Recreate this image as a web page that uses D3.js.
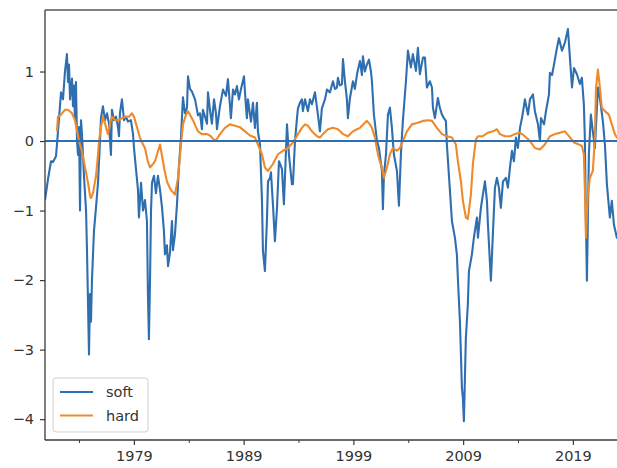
<!DOCTYPE html>
<html><head><meta charset="utf-8">
<script src="https://cdn.jsdelivr.net/npm/d3@7"></script>
<style>body{margin:0;background:#fff}svg{display:block}text{font-family:"DejaVu Sans",sans-serif}</style>
</head><body><svg id="c" width="617" height="468"></svg>
<script>
const softYears=[1970.90,1971.17,1971.45,1971.63,1971.90,1971.99,1972.18,1972.36,1972.54,1972.72,1972.90,1973.00,1973.09,1973.18,1973.36,1973.45,1973.54,1973.63,1973.72,1973.82,1973.91,1974.00,1974.09,1974.18,1974.27,1974.45,1974.64,1974.73,1974.91,1975.00,1975.09,1975.18,1975.36,1975.55,1975.73,1975.91,1976.00,1976.18,1976.37,1976.55,1976.73,1976.91,1977.00,1977.19,1977.37,1977.55,1977.64,1977.73,1977.91,1978.10,1978.28,1978.46,1978.73,1978.92,1979.01,1979.19,1979.37,1979.46,1979.65,1979.83,1980.01,1980.19,1980.28,1980.37,1980.47,1980.56,1980.65,1980.83,1981.01,1981.19,1981.38,1981.56,1981.74,1981.83,1982.01,1982.11,1982.29,1982.47,1982.56,1982.74,1982.93,1983.11,1983.29,1983.47,1983.65,1983.84,1983.93,1984.11,1984.29,1984.57,1984.84,1985.02,1985.20,1985.29,1985.48,1985.66,1985.75,1985.93,1986.11,1986.30,1986.48,1986.57,1986.84,1987.12,1987.39,1987.57,1987.84,1988.03,1988.21,1988.39,1988.57,1988.76,1989.03,1989.21,1989.30,1989.39,1989.67,1989.85,1990.03,1990.21,1990.30,1990.49,1990.67,1990.76,1990.94,1991.12,1991.22,1991.40,1991.49,1991.67,1991.85,1992.04,1992.22,1992.49,1992.67,1992.95,1993.13,1993.40,1993.49,1993.68,1993.86,1993.95,1994.13,1994.31,1994.40,1994.59,1994.86,1995.04,1995.22,1995.50,1995.77,1995.95,1996.13,1996.41,1996.59,1996.86,1997.14,1997.32,1997.50,1997.59,1997.77,1997.96,1998.05,1998.23,1998.41,1998.50,1998.69,1998.96,1999.14,1999.33,1999.60,1999.78,1999.87,2000.05,2000.23,2000.42,2000.60,2000.69,2000.87,2001.15,2001.33,2001.60,2001.69,2001.78,2001.97,2002.15,2002.33,2002.51,2002.69,2002.97,2003.15,2003.33,2003.51,2003.79,2003.97,2004.24,2004.42,2004.70,2004.88,2005.06,2005.34,2005.52,2005.70,2005.97,2006.16,2006.25,2006.43,2006.70,2006.88,2007.07,2007.25,2007.43,2007.52,2007.70,2007.98,2008.25,2008.43,2008.52,2008.71,2008.89,2008.98,2009.07,2009.25,2009.43,2009.53,2009.80,2009.98,2010.26,2010.35,2010.62,2010.80,2010.99,2011.17,2011.26,2011.53,2011.71,2011.90,2012.08,2012.26,2012.44,2012.63,2012.90,2013.08,2013.27,2013.45,2013.63,2013.81,2013.99,2014.18,2014.36,2014.54,2014.63,2014.91,2015.09,2015.36,2015.54,2015.82,2016.00,2016.09,2016.37,2016.55,2016.82,2016.91,2017.10,2017.28,2017.55,2017.73,2018.01,2018.28,2018.55,2018.73,2018.92,2019.10,2019.37,2019.64,2019.82,2020.00,2020.09,2020.19,2020.28,2020.46,2020.64,2020.82,2021.01,2021.28,2021.46,2021.73,2021.92,2022.10,2022.37,2022.55,2022.74,2023.01,2023.38];
const softValues=[-0.85,-0.55,-0.29,-0.30,-0.22,-0.05,0.33,0.70,0.60,1.00,1.25,0.85,1.10,0.60,0.90,0.50,0.80,0.30,0.85,0.00,-0.20,0.20,-1.00,0.30,0.10,-0.50,-1.00,-1.60,-3.07,-2.20,-2.60,-2.00,-1.30,-0.95,-0.60,0.00,0.33,0.50,0.30,0.40,0.25,-0.20,0.45,0.30,0.35,0.20,0.07,0.40,0.60,0.30,0.35,0.28,0.30,0.10,-0.10,-0.40,-0.70,-1.10,-0.60,-1.00,-0.85,-1.15,-2.20,-2.85,-2.00,-1.00,-0.60,-0.50,-0.75,-0.50,-0.70,-0.95,-1.30,-1.63,-1.50,-1.80,-1.60,-1.15,-1.57,-1.35,-0.90,-0.35,0.05,0.63,0.40,0.48,0.93,0.75,0.71,0.60,0.37,0.40,0.17,0.45,0.35,0.25,0.70,0.45,0.25,0.60,0.40,0.17,0.50,0.74,0.65,0.89,0.33,0.74,0.67,0.79,0.60,0.75,0.93,0.50,0.33,0.60,0.28,0.55,0.19,0.55,0.14,-0.05,-0.85,-1.58,-1.87,-1.15,-0.58,-0.53,-0.45,-0.91,-1.44,-0.96,-0.29,-0.40,-0.91,0.24,-0.20,-0.62,-0.62,0.00,0.33,0.47,0.55,0.60,0.43,0.60,0.43,0.60,0.53,0.70,0.38,0.14,0.47,0.60,0.74,0.70,0.86,0.75,0.77,0.91,0.80,0.82,1.18,0.86,0.60,0.33,0.62,0.86,0.75,0.96,1.15,0.95,1.22,1.00,1.10,1.17,1.00,0.86,0.38,0.00,-0.10,-0.43,-0.98,-0.50,-0.19,0.38,0.48,0.19,-0.19,-0.43,-0.93,-0.19,0.29,0.86,1.30,1.06,1.25,1.01,1.34,0.96,1.20,1.20,0.77,0.86,0.77,0.48,0.33,0.62,0.48,0.38,0.33,0.29,-0.05,-0.48,-1.15,-1.39,-1.63,-1.97,-2.60,-3.55,-3.70,-4.03,-2.83,-2.35,-1.87,-1.63,-1.39,-1.10,-1.39,-0.96,-0.77,-0.58,-0.86,-1.20,-2.01,-1.34,-0.67,-0.53,-0.67,-0.96,-0.58,-0.53,-0.67,-0.38,-0.14,-0.29,0.05,-0.10,0.19,0.33,0.50,0.60,0.38,0.60,0.67,0.43,0.24,0.00,0.33,0.24,0.43,0.67,0.98,0.95,1.10,1.34,1.48,1.30,1.42,1.61,1.20,0.77,1.05,0.96,0.82,0.91,0.53,0.05,-1.15,-2.01,-0.19,0.38,0.14,-0.10,0.77,0.62,0.29,-0.05,-0.62,-1.10,-0.86,-1.20,-1.39,-1.30];
const hardYears=[1971.99,1972.08,1972.36,1972.72,1973.00,1973.36,1973.63,1973.82,1974.00,1974.27,1974.45,1974.64,1974.82,1975.00,1975.09,1975.27,1975.55,1975.73,1975.82,1976.00,1976.18,1976.37,1976.64,1976.82,1977.00,1977.28,1977.55,1977.82,1978.19,1978.55,1978.83,1979.01,1979.28,1979.55,1979.83,1980.01,1980.28,1980.47,1980.74,1980.92,1981.19,1981.38,1981.65,1981.83,1982.01,1982.29,1982.47,1982.74,1983.02,1983.29,1983.47,1983.75,1983.93,1984.11,1984.38,1984.66,1984.84,1985.20,1985.66,1985.93,1986.11,1986.39,1986.66,1986.84,1987.30,1987.75,1988.21,1988.66,1989.12,1989.58,1990.03,1990.30,1990.67,1990.94,1991.22,1991.67,1992.13,1992.58,1993.04,1993.49,1993.95,1994.31,1994.59,1994.86,1995.22,1995.68,1995.95,1996.23,1996.68,1997.14,1997.59,1998.05,1998.50,1998.96,1999.33,1999.60,1999.96,2000.23,2000.51,2000.69,2000.96,2001.24,2001.42,2001.60,2001.78,2002.06,2002.33,2002.60,2002.97,2003.24,2003.51,2003.88,2004.33,2004.79,2005.34,2005.88,2006.16,2006.61,2007.07,2007.52,2007.98,2008.34,2008.52,2008.80,2008.98,2009.25,2009.43,2009.71,2009.89,2010.16,2010.35,2010.80,2011.26,2011.71,2012.08,2012.35,2012.81,2013.27,2013.72,2014.18,2014.54,2015.09,2015.54,2016.00,2016.45,2016.91,2017.36,2017.82,2018.28,2018.64,2019.10,2019.55,2019.82,2020.00,2020.09,2020.19,2020.37,2020.55,2020.82,2021.01,2021.10,2021.28,2021.46,2021.64,2021.92,2022.28,2022.55,2022.83,2023.01,2023.38];
const hardValues=[0.14,0.35,0.38,0.45,0.45,0.40,0.30,0.15,0.00,-0.15,-0.30,-0.45,-0.60,-0.78,-0.82,-0.75,-0.50,-0.20,0.00,0.20,0.35,0.25,0.10,0.25,0.35,0.30,0.30,0.32,0.35,0.35,0.40,0.35,0.20,0.05,-0.05,-0.10,-0.30,-0.38,-0.33,-0.29,-0.15,-0.05,-0.29,-0.45,-0.58,-0.68,-0.72,-0.77,-0.53,-0.05,0.24,0.38,0.43,0.38,0.30,0.20,0.14,0.10,0.10,0.08,0.05,0.00,0.05,0.10,0.19,0.24,0.22,0.20,0.14,0.08,0.05,-0.05,-0.19,-0.38,-0.43,-0.33,-0.19,-0.14,-0.10,-0.02,0.10,0.19,0.24,0.22,0.14,0.07,0.05,0.10,0.17,0.19,0.17,0.10,0.07,0.14,0.17,0.19,0.25,0.29,0.24,0.19,0.05,-0.19,-0.30,-0.38,-0.53,-0.38,-0.19,-0.10,-0.14,-0.10,0.00,0.14,0.24,0.26,0.29,0.30,0.29,0.19,0.10,0.07,0.05,-0.05,-0.29,-0.58,-0.86,-1.10,-1.12,-0.77,-0.33,0.02,0.07,0.07,0.12,0.14,0.17,0.10,0.07,0.07,0.10,0.12,0.08,0.00,-0.10,-0.12,-0.05,0.07,0.10,0.12,0.14,0.07,-0.02,-0.05,-0.07,-0.19,-0.67,-1.39,-0.77,-0.53,-0.43,0.05,0.74,1.03,0.77,0.48,0.43,0.38,0.24,0.10,0.05,0.00];
const seriesNames=["soft","hard"];
const xMajorTicks=[1979,1989,1999,2009,2019];
const xMinorTicks=[1974,1984,1994,2004,2014];
const yTicks=[1,0,-1,-2,-3,-4];

const svg=d3.select("#c");
const L=45,R=625,T=10,B=440;
const x=d3.scaleLinear().domain([1970.9,2023.75]).range([L,R]);
const y=d3.scaleLinear().domain([1.885,-4.30]).range([T,B]);
const colors={soft:"#2f6fb0",hard:"#ef8a2a"};
const axisColor="#3a3a3a";
const lw=2.1;

svg.append("defs").append("clipPath").attr("id","clip")
  .append("rect").attr("x",L).attr("y",T).attr("width",R-L).attr("height",B-T);

const line=d3.line().x(d=>x(d[0])).y(d=>y(d[1]));
const soft=softYears.map((t,i)=>[t,softValues[i]]);
const hard=hardYears.map((t,i)=>[t,hardValues[i]]);
const g=svg.append("g").attr("clip-path","url(#clip)");
g.append("path").datum(soft).attr("d",line).attr("fill","none").attr("stroke",colors.soft).attr("stroke-width",lw).attr("stroke-linejoin","round");
g.append("path").datum(hard).attr("d",line).attr("fill","none").attr("stroke",colors.hard).attr("stroke-width",lw).attr("stroke-linejoin","round");
g.append("line").attr("x1",L).attr("x2",R).attr("y1",y(0)).attr("y2",y(0)).attr("stroke",colors.soft).attr("stroke-width",lw);

// spines
svg.append("line").attr("x1",L).attr("x2",L).attr("y1",T).attr("y2",B).attr("stroke",axisColor).attr("stroke-width",1.3);
svg.append("line").attr("x1",L).attr("x2",R).attr("y1",B).attr("y2",B).attr("stroke",axisColor).attr("stroke-width",1.3);
svg.append("line").attr("x1",L).attr("x2",R).attr("y1",T).attr("y2",T).attr("stroke","#555").attr("stroke-width",1.3);

// x axis
const xa=svg.append("g").attr("transform",`translate(0,${B})`)
  .call(d3.axisBottom(x).tickValues(xMajorTicks).tickFormat(d3.format("d")).tickSize(5).tickPadding(6));
xa.select(".domain").remove();
xa.selectAll("line").attr("stroke",axisColor).attr("stroke-width",1.2);
xa.selectAll("text").attr("fill","#333").style("font-size","14.5px").style("font-family","DejaVu Sans");
const xm=svg.append("g").attr("transform",`translate(0,${B})`)
  .call(d3.axisBottom(x).tickValues(xMinorTicks).tickFormat("").tickSize(3));
xm.select(".domain").remove();
xm.selectAll("line").attr("stroke",axisColor).attr("stroke-width",1);

// y axis
const ya=svg.append("g").attr("transform",`translate(${L},0)`)
  .call(d3.axisLeft(y).tickValues(yTicks).tickFormat(d=>d<0?"\u2212"+Math.abs(d):String(d)).tickSize(5).tickPadding(6));
ya.select(".domain").remove();
ya.selectAll("line").attr("stroke",axisColor).attr("stroke-width",1.2);
ya.selectAll("text").attr("fill","#333").style("font-size","14.5px").style("font-family","DejaVu Sans");

// legend
const lg=svg.append("g");
lg.append("rect").attr("x",53).attr("y",378).attr("width",95).attr("height",54).attr("rx",3)
  .attr("fill","#fff").attr("fill-opacity",0.8).attr("stroke","#d0d0d0").attr("stroke-width",1);
seriesNames.forEach((n,i)=>{
  const yy=392+i*23.5;
  lg.append("line").attr("x1",60).attr("x2",93).attr("y1",yy).attr("y2",yy).attr("stroke",colors[n]).attr("stroke-width",lw);
  lg.append("text").attr("x",106).attr("y",yy).attr("dy","0.35em").attr("fill","#333").style("font-size","14.5px").text(n);
});
</script></body></html>
